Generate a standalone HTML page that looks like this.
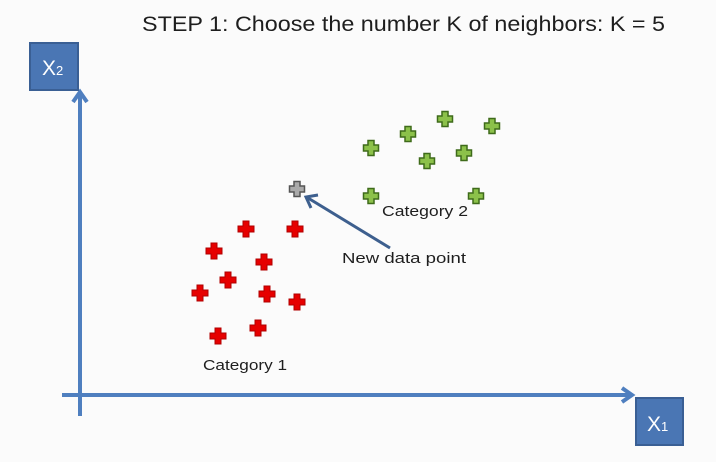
<!DOCTYPE html>
<html><head><meta charset="utf-8"><style>
html,body{margin:0;padding:0;background:#fbfbfb;}
svg{display:block}
text{font-family:"Liberation Sans",sans-serif;fill:#1e1e1e}
</style></head><body>
<svg width="716" height="462" viewBox="0 0 716 462" xmlns="http://www.w3.org/2000/svg">
<defs>
<path id="cr" d="M-3,-8H3V-3H8V3H3V8H-3V3H-8V-3H-3Z"/>
<path id="cg" d="M-3,-7.5H3V-3H7.5V3H3V7.5H-3V3H-7.5V-3H-3Z"/>
</defs>
<rect width="716" height="462" fill="#fbfbfb"/>
<text x="142" y="31" font-size="21" textLength="523" lengthAdjust="spacingAndGlyphs">STEP 1: Choose the number K of neighbors: K = 5</text>
<line x1="80" y1="416" x2="80" y2="94" stroke="#4f7fbf" stroke-width="4"/>
<polyline points="73,102 80,92 87,102" fill="none" stroke="#4f7fbf" stroke-width="4"/>
<line x1="62" y1="395" x2="632" y2="395" stroke="#4f7fbf" stroke-width="4"/>
<polyline points="622,388 632,395 622,402" fill="none" stroke="#4f7fbf" stroke-width="4"/>
<rect x="30" y="43" width="48" height="47" fill="#4a76b4" stroke="#3a5f94" stroke-width="2"/>
<text x="42" y="75" font-size="21" style="fill:#fff">X<tspan font-size="13">2</tspan></text>
<rect x="636" y="398" width="47" height="47" fill="#4a76b4" stroke="#3a5f94" stroke-width="2"/>
<text x="647" y="431" font-size="21" style="fill:#fff">X<tspan font-size="13">1</tspan></text>
<g fill="#e60000" stroke="#b00000" stroke-width="1">
<use href="#cr" x="246" y="229"/><use href="#cr" x="295" y="229"/><use href="#cr" x="214" y="251"/>
<use href="#cr" x="264" y="262"/><use href="#cr" x="228" y="280"/><use href="#cr" x="200" y="293"/>
<use href="#cr" x="267" y="294"/><use href="#cr" x="297" y="302"/><use href="#cr" x="218" y="336"/>
<use href="#cr" x="258" y="328"/>
</g>
<g fill="#8cc14a" stroke="#3e6b1a" stroke-width="1.5">
<use href="#cg" x="445" y="119"/><use href="#cg" x="492" y="126"/><use href="#cg" x="408" y="134"/>
<use href="#cg" x="371" y="148"/><use href="#cg" x="464" y="153"/><use href="#cg" x="427" y="161"/>
<use href="#cg" x="371" y="196"/><use href="#cg" x="476" y="196"/>
</g>
<use href="#cg" x="297" y="189" fill="#aaa" stroke="#555" stroke-width="1.5"/>
<line x1="390" y1="248" x2="308" y2="198" stroke="#3d5f8e" stroke-width="3"/>
<polyline points="311,208 306,197 318,195" fill="none" stroke="#3d5f8e" stroke-width="3"/>
<text x="382" y="216" font-size="15" textLength="86" lengthAdjust="spacingAndGlyphs">Category 2</text>
<text x="342" y="263" font-size="15" textLength="124" lengthAdjust="spacingAndGlyphs">New data point</text>
<text x="203" y="370" font-size="15" textLength="84" lengthAdjust="spacingAndGlyphs">Category 1</text>
</svg>
</body></html>
